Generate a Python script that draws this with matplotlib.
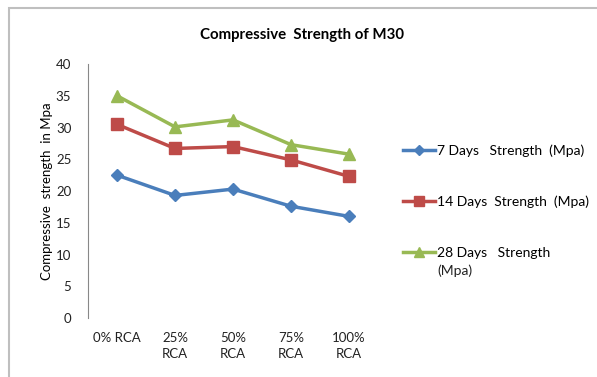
import matplotlib.pyplot as plt
from matplotlib.patches import Rectangle

plt.rcParams['font.family'] = ['Lato', 'DejaVu Sans']

categories = ["0% RCA", "25%\nRCA", "50%\nRCA", "75%\nRCA", "100%\nRCA"]
days7 = [22.5, 19.3, 20.3, 17.6, 16.0]
days14 = [30.5, 26.7, 27.0, 24.9, 22.3]
days28 = [35.0, 30.1, 31.2, 27.3, 25.8]
labels = ["7 Days   Strength  (Mpa)", "14 Days  Strength  (Mpa)",
          "28 Days   Strength"]

fig = plt.figure(figsize=(5.97, 3.77), dpi=100)
ax = fig.add_axes([0.1474, 0.1565, 0.4858, 0.6737])

x = range(len(categories))
l1, = ax.plot(x, days7, color="#4A7EBB", lw=2.5, marker="D", ms=6.5)
l2, = ax.plot(x, days14, color="#BE4B48", lw=2.5, marker="s", ms=8.5)
l3, = ax.plot(x, days28, color="#98B954", lw=2.5, marker="^", ms=9)

ax.set_xlim(-0.5, len(categories) - 0.5)
ax.set_ylim(0, 40)
ax.set_yticks(range(0, 41, 5))
ax.set_xticks(list(x))
ax.set_xticklabels(categories, fontsize=9.5, linespacing=1.4)
ax.tick_params(axis='both', length=0, labelsize=9.5, colors="#222222")
ax.tick_params(axis='y', pad=12)
ax.tick_params(axis='x', pad=10)
for s in ["top", "right", "bottom"]:
    ax.spines[s].set_visible(False)
ax.spines["left"].set_color("#888888")

ax.set_ylabel("Compressive  strength  in Mpa", fontsize=9.5, labelpad=2)
fig.text(0.506, 0.907, "Compressive  Strength of M30", ha="center", va="center",
         fontsize=10.8, fontweight="bold")

leg = fig.legend([l1, l2, l3], labels, loc="upper left",
                 bbox_to_anchor=(0.665, 0.632), frameon=False, fontsize=10,
                 handlelength=2.3, handletextpad=0.15, labelspacing=2.8,
                 borderaxespad=0, markerscale=0.8)
fig.text(0.733, 0.281, "(Mpa)", fontsize=10, va="center", color="#222222")

fig.patches.append(Rectangle((9 / 597, -0.1), 1.2, 1.1 - 8 / 377,
                             transform=fig.transFigure, fill=False,
                             edgecolor="#bfbfbf", lw=1.5))

fig.savefig("out.png", dpi=100)
